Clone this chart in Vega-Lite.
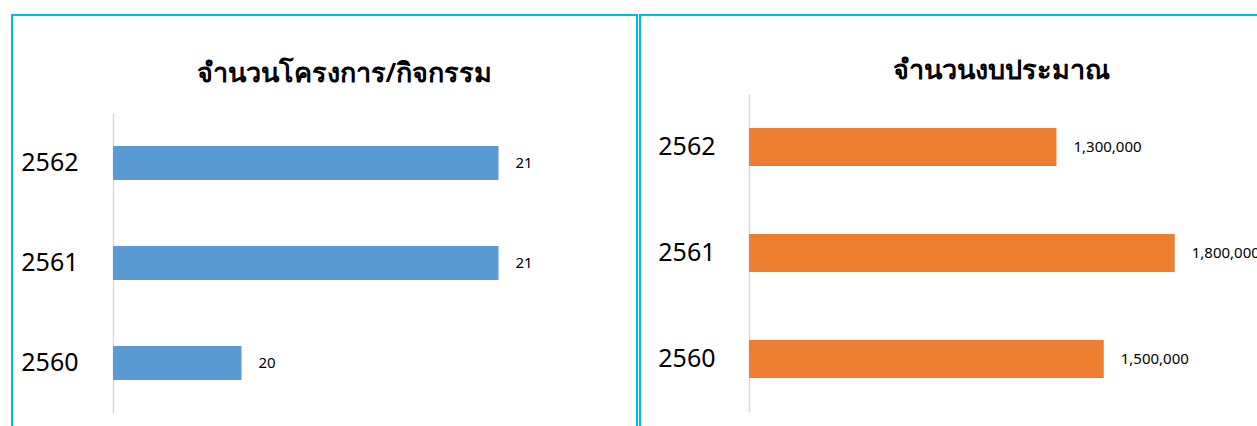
{
  "$schema": "https://vega.github.io/schema/vega-lite/v6.json",
  "padding": {"left": 11, "top": 14, "right": 0, "bottom": 0},
  "spacing": 1,
  "background": "white",
  "config": {
    "font": "Noto Sans",
    "view": {"stroke": "#00B8F0", "strokeWidth": 2},
    "axis": {"labelFont": "Noto Sans", "labelColor": "#000000", "domainColor": "#D9D9D9", "domainWidth": 1.5, "ticks": false, "title": null, "grid": false}
  },
  "datasets": {
    "proj": [
      {"year": "2562", "value": 21},
      {"year": "2561", "value": 21},
      {"year": "2560", "value": 20}
    ],
    "budget": [
      {"year": "2562", "value": 1300000},
      {"year": "2561", "value": 1800000},
      {"year": "2560", "value": 1500000}
    ]
  },
  "hconcat": [
    {
      "width": 625,
      "height": 430,
      "data": {"name": "proj"},
      "title": {"text": "จำนวนโครงการ/กิจกรรม", "frame": "group", "offset": -94, "dx": 20, "baseline": "alphabetic", "fontSize": 27, "fontWeight": 600, "color": "#000000", "font": "Noto Sans"},
      "encoding": {
        "y": {"field": "year", "type": "nominal", "sort": "descending",
          "scale": {"range": [98, 398], "paddingInner": 0.66, "paddingOuter": 0.33},
          "axis": {"offset": -101, "labelFontSize": 25, "labelPadding": 35}},
        "x": {"field": "value", "type": "quantitative",
          "scale": {"domain": [19.5, 21.5], "range": [101, 615], "zero": false}, "axis": null}
      },
      "layer": [
        {"mark": {"type": "bar", "color": "#5B9BD5"}, "encoding": {"x2": {"datum": 19.5}}},
        {"mark": {"type": "text", "align": "left", "dx": 17, "fontSize": 15, "color": "#000000"}, "encoding": {"text": {"field": "value", "type": "quantitative", "format": ","}}}
      ]
    },
    {
      "width": 625,
      "height": 430,
      "data": {"name": "budget"},
      "title": {"text": "จำนวนงบประมาณ", "frame": "group", "offset": -91, "dx": 49, "baseline": "alphabetic", "fontSize": 27, "fontWeight": 600, "color": "#000000", "font": "Noto Sans"},
      "encoding": {
        "y": {"field": "year", "type": "nominal", "sort": "descending",
          "scale": {"range": [79, 397], "paddingInner": 0.64, "paddingOuter": 0.32},
          "axis": {"offset": -109, "labelFontSize": 25, "labelPadding": 34}},
        "x": {"field": "value", "type": "quantitative",
          "scale": {"domain": [0, 2000000], "range": [109, 582]}, "axis": null}
      },
      "layer": [
        {"mark": {"type": "bar", "color": "#ED7D31"}, "encoding": {"x2": {"datum": 0}}},
        {"mark": {"type": "text", "align": "left", "dx": 17, "fontSize": 15, "color": "#000000"}, "encoding": {"text": {"field": "value", "type": "quantitative", "format": ","}}}
      ]
    }
  ]
}
